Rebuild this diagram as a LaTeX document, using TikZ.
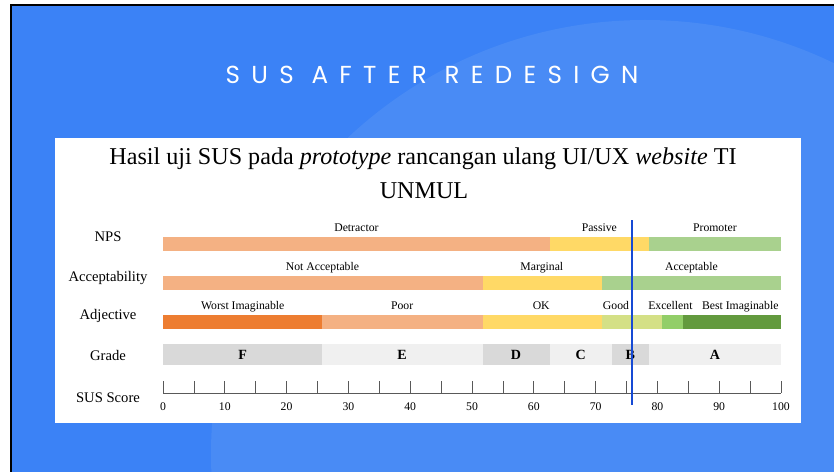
\documentclass[tikz,border=0pt]{standalone}
\usepackage{fontspec}
\setmainfont{Liberation Serif}
\newfontfamily\titlefont[LetterSpace=46]{Poppins}
\usepackage{xcolor}
\usepackage{tikz}

\definecolor{bgblue}{RGB}{59,130,246}
\definecolor{bglight}{RGB}{73,139,245}
\definecolor{lorange}{RGB}{244,177,131}
\definecolor{dorange}{RGB}{237,125,49}
\definecolor{cyellow}{RGB}{255,217,102}
\definecolor{lgreen}{RGB}{169,209,142}
\definecolor{ygreen}{RGB}{212,224,134}
\definecolor{mgreen}{RGB}{146,206,104}
\definecolor{dgreen}{RGB}{99,154,62}
\definecolor{gdark}{RGB}{217,217,217}
\definecolor{glight}{RGB}{240,240,240}
\definecolor{susblue}{RGB}{22,74,212}

\begin{document}
\begin{tikzpicture}[x=0.3mm, y=-0.3mm,
    rowlabel/.style={font=\fontsize{12.5}{15}\selectfont, anchor=base},
    barlabel/.style={font=\fontsize{10}{12}\selectfont, anchor=base, inner sep=0pt},
    gradelabel/.style={font=\fontsize{12}{14}\selectfont\bfseries, anchor=base, inner sep=0pt},
    ticklabel/.style={font=\fontsize{10}{12}\selectfont, anchor=base, inner sep=0pt},
    axis/.style={draw=black!65, line width=0.6pt}]
    \useasboundingbox (0,0) rectangle (834,472);
    % Slide background
    \fill[white] (0,0) rectangle (834,472);
    \fill[bgblue] (11,5) rectangle (834,472);
    \begin{scope}
        \clip (11,5) rectangle (834,472);
        \fill[bglight] (645,454) circle[radius=130.2mm];
    \end{scope}
    \draw[black, line width=1.8pt] (11,472) -- (11,5) -- (834,5);
    \node[text=white, font=\titlefont\fontsize{21}{25}\selectfont] (title) at (432,75) {SUS AFTER REDESIGN};
    % Chart panel
    \fill[white] (55,138) rectangle (801,423);
    \node[anchor=base, font=\fontsize{20.6}{24}\selectfont] (head1) at (423,165)
        {Hasil uji SUS pada \textit{prototype} rancangan ulang UI/UX \textit{website} TI};
    \node[anchor=base, font=\fontsize{20.6}{24}\selectfont] (head2) at (424,199) {UNMUL};
    % Row labels
    \node[rowlabel] (nps) at (108,241) {NPS};
    \node[rowlabel] (accept) at (108,281) {Acceptability};
    \node[rowlabel] (adject) at (108,319) {Adjective};
    \node[rowlabel] (grade) at (108,360) {Grade};
    \node[rowlabel] (score) at (108,402) {SUS Score};
    \begin{scope}[xshift=48.9mm, x=1.854mm]
        % NPS
        \foreach \a/\b/\c in {0/62.6/lorange, 62.6/78.7/cyellow, 78.7/100/lgreen}
            \fill[\c] (\a,237) rectangle (\b,251);
        \node[barlabel] (detractor) at (31.3,231) {Detractor};
        \node[barlabel] (passive) at (70.6,231) {Passive};
        \node[barlabel] (promoter) at (89.3,231) {Promoter};
        % Acceptability
        \foreach \a/\b/\c in {0/51.7/lorange, 51.7/71.1/cyellow, 71.1/100/lgreen}
            \fill[\c] (\a,276) rectangle (\b,290);
        \node[barlabel] (notacc) at (25.8,270) {Not Acceptable};
        \node[barlabel] (marginal) at (61.3,270) {Marginal};
        \node[barlabel] (acc) at (85.5,270) {Acceptable};
        % Adjective
        \foreach \a/\b/\c in {0/25.8/dorange, 25.8/51.7/lorange, 51.7/71.1/cyellow,
                              71.1/80.7/ygreen, 80.7/84.1/mgreen, 84.1/100/dgreen}
            \fill[\c] (\a,315) rectangle (\b,329);
        \node[barlabel] (worst) at (12.9,309) {Worst Imaginable};
        \node[barlabel] (poor) at (38.7,309) {Poor};
        \node[barlabel] (ok) at (61.2,309) {OK};
        \node[barlabel] (good) at (73.3,309) {Good};
        \node[barlabel] (excel) at (82.1,309) {Excellent};
        \node[barlabel] (best) at (93.4,309) {Best Imaginable};
        % Grade
        \foreach \a/\b/\c in {0/25.8/gdark, 25.8/51.7/glight, 51.7/62.6/gdark,
                              62.6/72.6/glight, 72.6/78.7/gdark, 78.7/100/glight}
            \fill[\c] (\a,344) rectangle (\b,365);
        \foreach \g/\x in {F/12.9, E/38.7, D/57.1, C/67.6, B/75.6, A/89.3}
            \node[gradelabel] (grade\g) at (\x,359) {\g};
        % SUS score axis
        \draw[axis] (0,393) -- (100,393);
        \foreach \t in {0,5,...,100}
            \draw[axis] (\t,381) -- (\t,393);
        \foreach \t in {0,10,...,100}
            \node[ticklabel] (tick\t) at (\t,410) {\t};
        % Score marker
        \coordinate (susTop) at (75.9,220);
        \coordinate (susBot) at (75.9,405);
        \draw[susblue, line width=2pt] (susTop) -- (susBot);
    \end{scope}
\end{tikzpicture}
\end{document}
